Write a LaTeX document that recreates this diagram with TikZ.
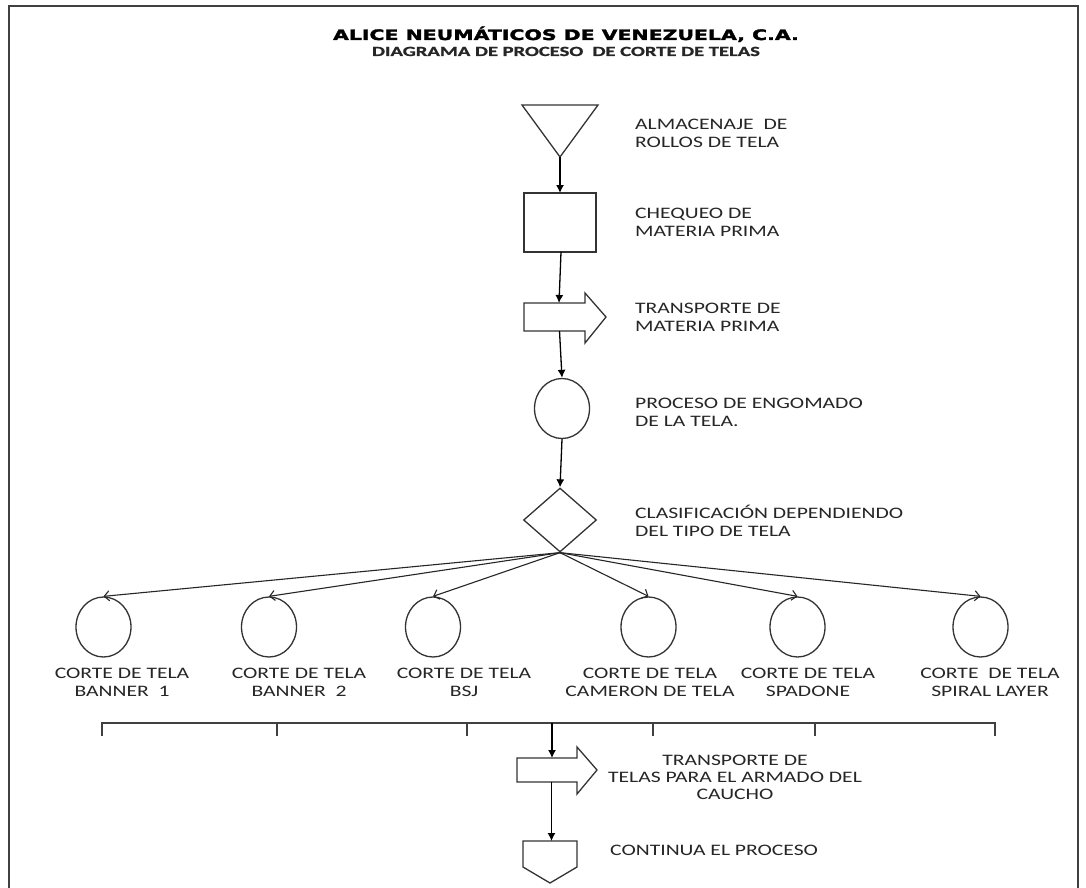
\documentclass[tikz,border=0pt]{standalone}
\usepackage{fontspec}
\setmainfont{Carlito}[FakeStretch=1.35]
\newfontfamily\titlefont{DejaVu Sans}[FakeStretch=1.42,FakeBold=2.2]
\newfontfamily\subfont{Carlito}[FakeStretch=1.47,FakeBold=1.2]
\usetikzlibrary{arrows.meta,calc,shapes.geometric}
\newcommand\twoL[2]{\vtop{\baselineskip=18.5pt\hbox{#1}\hbox{#2}}}
\newcommand\twoC[2]{\vtop{\baselineskip=18pt\halign{\hfil##\hfil\cr#1\cr#2\cr}}}
\newcommand\threeC[3]{\vtop{\baselineskip=17pt\halign{\hfil##\hfil\cr#1\cr#2\cr#3\cr}}}
\begin{document}
\begin{tikzpicture}[x=1pt,y=-1pt,
  shp/.style={draw=black!80, line width=1.3pt},
  box/.style={inner sep=0, outer sep=0, minimum width=#1},
  con/.style={draw=black, line width=1.3pt, -{Latex[length=8pt,width=8pt]}},
  fan/.style={draw=black!85, line width=1.1pt, -{Straight Barb[length=5pt,width=10pt]}},
  lbl/.style={inner sep=0, anchor=base west, text=black!85, font=\fontsize{16}{18}\selectfont},
  clbl/.style={inner sep=0, anchor=base, text=black!85, font=\fontsize{16}{18}\selectfont},
  oval/.style={shp, ellipse, inner sep=0, minimum width=55, minimum height=60},
  bar/.style={draw=black!75, line width=1.4pt}
]
\useasboundingbox (0,0) rectangle (1086,888);
\fill[white] (0,0) rectangle (1086,888);
% frame
\draw[draw=black!75, line width=2pt] (9,888) -- (9,6) -- (1078,6) -- (1078,888);

% titles
\node[inner sep=0, anchor=base, font=\titlefont\bfseries\fontsize{14.4}{16}\selectfont] (title) at (566,40) {ALICE NEUMÁTICOS DE VENEZUELA, C.A.};
\node[inner sep=0, anchor=base, text=black!85, font=\subfont\bfseries\fontsize{14}{16}\selectfont] (subtitle) at (566,56) {DIAGRAMA DE PROCESO\ \ DE CORTE DE TELAS};

% main column
\node[box=76, minimum height=52] (alm) at (560,131) {};
\draw[shp] (alm.north west) -- (alm.north east) -- (alm.south) -- cycle;

\node[shp, box=72, minimum height=59] (chk) at (560,222.5) {};

\node[box=61, minimum height=28] (tr1) at (554.5,317) {};
\draw[shp] (tr1.north west) -- (tr1.north east) -- ++(0,-10) -- ($(tr1.east)+(21,0)$)
  -- ($(tr1.south east)+(0,12)$) -- (tr1.south east) -- (tr1.south west) -- cycle;

\node[oval] (eng) at (562,408.5) {};

\node[shp, diamond, inner sep=0, minimum width=73, minimum height=64] (cls) at (560,520) {};

\draw[con] (alm.south) -- (chk.north);
\draw[con] ([xshift=1pt]chk.south) -- ([xshift=4.5pt]tr1.north);
\draw[con] ([xshift=5pt]tr1.south) -- (eng.north);
\draw[con] (eng.south) -- (cls.north);

% right labels
\node[lbl] (l1) at (635,129) {\twoL{ALMACENAJE\ \ DE}{ROLLOS DE TELA}};
\node[lbl] (l2) at (635,218) {\twoL{CHEQUEO DE}{MATERIA PRIMA}};
\node[lbl] (l3) at (635,313) {\twoL{TRANSPORTE DE}{MATERIA PRIMA}};
\node[lbl] (l4) at (635,408) {\twoL{PROCESO DE ENGOMADO}{DE LA TELA.}};
\node[lbl] (l5) at (635,518) {\twoL{CLASIFICACIÓN DEPENDIENDO}{DEL TIPO DE TELA}};

% cutting circles
\node[oval] (c1) at (103.5,627) {};
\node[oval] (c2) at (269,627) {};
\node[oval] (c3) at (433,627) {};
\node[oval] (c4) at (648.5,627) {};
\node[oval] (c5) at (797.5,627) {};
\node[oval] (c6) at (980.5,627) {};
\foreach \c in {c1,c2,c3,c4,c5,c6} \draw[fan] (cls.south) -- (\c.north);

\node[clbl] (t1) at (122,678) {\twoC{CORTE DE TELA}{BANNER\ \ 1}};
\node[clbl] (t2) at (299,678) {\twoC{CORTE DE TELA}{BANNER\ \ 2}};
\node[clbl] (t3) at (464,678) {\twoC{CORTE DE TELA}{BSJ}};
\node[clbl] (t4) at (650,678) {\twoC{CORTE DE TELA}{CAMERON DE TELA}};
\node[clbl] (t5) at (808,678) {\twoC{CORTE DE TELA}{SPADONE}};
\node[clbl] (t6) at (990,678) {\twoC{CORTE\ \ DE TELA}{SPIRAL LAYER}};

% collecting bar
\coordinate (b1) at (102,723);
\coordinate (b2) at (277,723);
\coordinate (b3) at (467,723);
\coordinate (b4) at (653,723);
\coordinate (b5) at (815,723);
\coordinate (b6) at (995,723);
\coordinate (bs) at (552,723);
\draw[bar] ([yshift=-13pt]b1) -- (b1) -- (b6) -- ([yshift=-13pt]b6);
\foreach \b in {b2,b3,b4,b5} \draw[bar] (\b) -- ([yshift=-13pt]\b);

\node[box=60, minimum height=24] (tr2) at (547,770) {};
\draw[shp] (tr2.north west) -- (tr2.north east) -- ++(0,-11) -- ($(tr2.east)+(20,0)$)
  -- ($(tr2.south east)+(0,12)$) -- (tr2.south east) -- (tr2.south west) -- cycle;

\node[box=54, minimum height=42] (cont) at (550,862) {};
\draw[shp] (cont.north west) -- (cont.north east) -- ($(cont.north east)+(0,26)$)
  -- (cont.south) -- ($(cont.north west)+(0,26)$) -- cycle;

\draw[con] (bs) -- ([xshift=5pt]tr2.north);
\draw[con] ([xshift=4.5pt]tr2.south) -- ([xshift=1.5pt]cont.north);

\node[clbl] (l6) at (735,765) {\threeC{TRANSPORTE DE}{TELAS PARA EL ARMADO DEL}{CAUCHO}};
\node[lbl] (l7) at (610,855) {CONTINUA EL PROCESO};
\end{tikzpicture}
\end{document}
